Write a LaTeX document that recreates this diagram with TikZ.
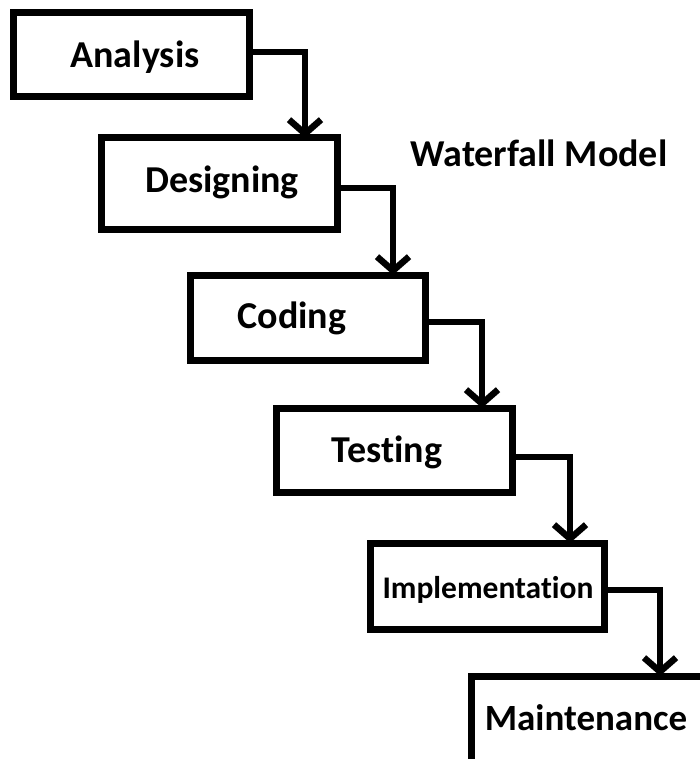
\documentclass[tikz,border=0pt]{standalone}
\usepackage{fontspec}
\setmainfont{Carlito}[Ligatures={NoCommon}]
\usetikzlibrary{arrows.meta}
\begin{document}
\begin{tikzpicture}[x=1pt,y=-1pt,
  stage/.style={draw,line width=7pt,inner sep=0pt,outer sep=0pt,anchor=north west},
  lbl/.style={font=\bfseries\fontsize{38}{40}\selectfont,anchor=base,inner sep=0pt},
  flow/.style={line width=6.5pt,-{Straight Barb[length=14pt,width=32pt]}}]
\useasboundingbox (0,0) rectangle (700,759);
\clip (0,0) rectangle (700,759);
% phase boxes
\node[stage,minimum width=236pt,minimum height=84pt] (ana) at (13,13) {};
\node[stage,minimum width=236pt,minimum height=91pt] (des) at (101,138) {};
\node[stage,minimum width=235pt,minimum height=85pt] (cod) at (190,275) {};
\node[stage,minimum width=236pt,minimum height=84pt] (tes) at (276,408) {};
\node[stage,minimum width=234pt,minimum height=86pt] (imp) at (370,543) {};
\node[stage,minimum width=300pt,minimum height=150pt] (mai) at (471,676) {};
% labels
\node[lbl] (tana) at (135,68) {Analysis};
\node[lbl] (tdes) at (222,193) {Designing};
\node[lbl] (title) at (539,167) {Waterfall Model};
\node[lbl] (tcod) at (292,328) {Coding};
\node[lbl] (ttes) at (387,462) {Testing};
\node[lbl,font=\bfseries\fontsize{31.5}{33}\selectfont] (timp) at (488,598) {Implementation};
\node[lbl,font=\bfseries\fontsize{37}{39}\selectfont] (tmai) at (586,730) {Maintenance};
% connectors
\draw[flow] ([yshift=3pt]ana.east) -| ([xshift=86pt]des.north);
\draw[flow] ([yshift=-4.5pt]des.east) -| ([xshift=85.5pt]cod.north);
\draw[flow] ([yshift=-4.5pt]cod.east) -| ([xshift=88pt]tes.north);
\draw[flow] ([yshift=-7pt]tes.east) -| ([xshift=83pt]imp.north);
\draw[flow] ([yshift=-4pt]imp.east) -| ([xshift=189pt]mai.north west);
\end{tikzpicture}
\end{document}
